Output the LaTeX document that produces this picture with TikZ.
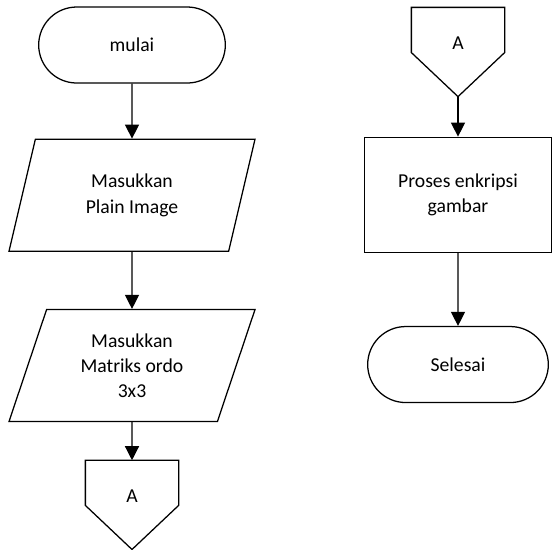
\documentclass[tikz,border=0pt]{standalone}
\usepackage{fontspec}
\setmainfont{Carlito}
\usetikzlibrary{arrows.meta, shapes.geometric, shapes.misc, positioning}
\tikzset{
  base/.style     = {draw=black, line width=0.9pt, align=center,
                     font=\fontsize{14}{18}\selectfont},
  terminal/.style = {base, rounded rectangle, minimum width=4.9cm,
                     minimum height=1.9cm},
  io/.style       = {base, trapezium, trapezium left angle=63,
                     trapezium right angle=117, trapezium stretches body,
                     minimum width=6.15cm, minimum height=2.8cm},
  proc/.style     = {base, rectangle, minimum width=4.675cm,
                     minimum height=2.875cm},
  offpage/.style  = {base, draw=none, minimum width=2.3cm,
                     minimum height=2.2cm, text depth=0.45cm,
                     append after command={\pgfextra{\let\offnode\tikzlastnode
                       \draw[line width=0.9pt]
                         (\offnode.north west) -- (\offnode.north east)
                         -- ([yshift=-1.13cm]\offnode.north east)
                         -- (\offnode.south)
                         -- ([yshift=-1.13cm]\offnode.north west) -- cycle;}}},
  arr/.style      = {-{Triangle[length=10pt,width=10pt]}, line width=0.9pt},
}
\begin{document}
\begin{tikzpicture}
  \useasboundingbox (0,0) rectangle (13.8,-13.725);

  % left column
  \node[terminal] (mulai) at (3.3,-1.125) {mulai};
  \node[io, below=1.375cm of mulai] (plain) {Masukkan\\Plain Image};
  \node[io, below=1.425cm of plain] (matriks) {Masukkan\\Matriks ordo\\3x3};
  \node[offpage, below=0.95cm of matriks] (conA) {A};

  % right column
  \node[offpage] (conB) at (11.45,-1.3) {A};
  \node[proc, below=1.0cm of conB] (enkripsi) {Proses enkripsi\\gambar};
  \node[terminal, minimum width=4.75cm, below=1.825cm of enkripsi] (selesai) {Selesai};

  % arrows
  \draw[arr] (mulai) -- (plain);
  \draw[arr] (plain) -- (matriks);
  \draw[arr] (matriks) -- (conA);
  \draw[arr] (conB.south) -- (enkripsi.north);
  \draw[arr] (enkripsi) -- (selesai);

\end{tikzpicture}
\end{document}
